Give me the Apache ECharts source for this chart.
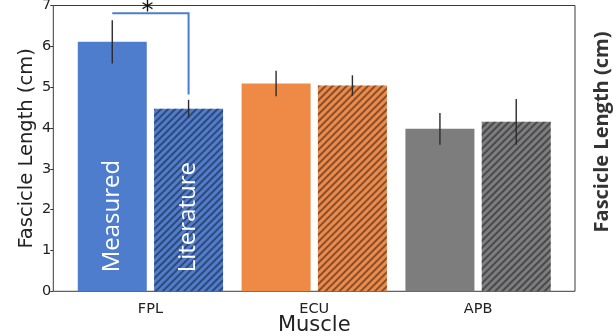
<!DOCTYPE html>
<html><head><meta charset="utf-8">
<script src="https://cdn.jsdelivr.net/npm/echarts@6/dist/echarts.min.js"></script>
<style>html,body{margin:0;padding:0;background:#fff}#c{width:613px;height:336px}</style>
</head><body><div id="c"></div>
<script>
const categories = ['FPL', 'ECU', 'APB'];
const measured = [6.11, 5.09, 3.98];
const measuredErr = [0.53, 0.31, 0.39];
const literature = [4.47, 5.04, 4.15];
const literatureErr = [0.22, 0.25, 0.56];
const yTicks = [0, 1, 2, 3, 4, 5, 6, 7];
const seriesNames = ['Measured', 'Literature'];
const sigCategory = 0;   // FPL
const sigTop = 6.81;
const sigDrop = 4.82;
const sigMark = '*';

const colors = ['#4f7dcd', '#ee8a45', '#7d7d7d'];
const BAR_W = 69, BAR_GAP = 7.3;
const OFF = (BAR_W + BAR_GAP) / 2;

const chart = echarts.init(document.getElementById('c'), null, {renderer: 'canvas'});

function errSeries(vals, errs, sign) {
  return {
    type: 'custom', xAxisIndex: 0, yAxisIndex: 0, z: 5, clip: false,
    data: vals.map((v, i) => [i, v - errs[i], v + errs[i]]),
    renderItem: function (params, api) {
      const lo = api.coord([api.value(0), api.value(1)]);
      const hi = api.coord([api.value(0), api.value(2)]);
      const x = lo[0] + sign * OFF;
      return {type: 'line', shape: {x1: x, y1: lo[1], x2: x, y2: hi[1]},
        style: {stroke: '#2b2b2b', lineWidth: 1.4}};
    }
  };
}

const labelBase = {show: true, position: 'insideBottom', rotate: 90, align: 'left',
  verticalAlign: 'middle', distance: 19, color: '#fff', fontSize: 24, fontFamily: 'Open Sans'};

const option = {
  animation: false,
  grid: [
    {left: 68.5, right: 53, top: 5.5, bottom: 44.7, outerBoundsMode: 'none', containLabel: false},
    {left: 53.3, right: 38, top: 5.5, bottom: 44.7, outerBoundsMode: 'none', containLabel: false,
      show: true, borderColor: '#3a3a3a', borderWidth: 1}
  ],
  xAxis: [
    {type: 'category', data: categories, gridIndex: 0,
      axisLine: {show: false}, axisTick: {show: false},
      axisLabel: {fontSize: 14.5, color: '#222', margin: 10, fontFamily: 'DejaVu Sans'},
      name: 'Muscle', nameLocation: 'middle', nameGap: 24, nameMoveOverlap: false,
      nameTextStyle: {fontSize: 21, color: '#222', fontFamily: 'DejaVu Sans'}},
    {type: 'value', gridIndex: 1, show: false}
  ],
  yAxis: [
    {type: 'value', gridIndex: 0, min: yTicks[0], max: yTicks[yTicks.length - 1], interval: 1,
      offset: 15.2, axisLine: {show: false},
      axisTick: {show: true, length: 3, lineStyle: {color: '#333'}},
      axisLabel: {fontSize: 14.5, color: '#222', margin: 2, fontFamily: 'DejaVu Sans'},
      splitLine: {show: false},
      name: 'Fascicle Length (cm)', nameLocation: 'middle', nameGap: 16, nameMoveOverlap: false,
      nameTextStyle: {fontSize: 19.5, color: '#222', fontFamily: 'DejaVu Sans'}},
    {type: 'value', gridIndex: 1, show: false}
  ],
  series: [
    {type: 'bar', name: seriesNames[0], xAxisIndex: 0, yAxisIndex: 0, barWidth: BAR_W,
      barGap: (BAR_GAP / BAR_W * 100) + '%',
      itemStyle: {color: p => colors[p.dataIndex]},
      data: measured.map((v, i) => i === 0 ? {value: v, label: Object.assign({formatter: seriesNames[0]}, labelBase)} : v)},
    {type: 'bar', name: seriesNames[1], xAxisIndex: 0, yAxisIndex: 0, barWidth: BAR_W,
      itemStyle: {color: p => colors[p.dataIndex],
        decal: {symbol: 'rect', symbolSize: 1, dashArrayX: [1, 0], dashArrayY: [1.2, 2.4],
          rotation: -Math.PI / 4, color: 'rgba(20,20,30,0.5)'}},
      data: literature.map((v, i) => i === 0 ? {value: v, label: Object.assign({formatter: seriesNames[1]}, labelBase)} : v)},
    errSeries(measured, measuredErr, -1),
    errSeries(literature, literatureErr, 1),
    {type: 'custom', xAxisIndex: 0, yAxisIndex: 0, z: 6, clip: false,
      data: [[sigCategory, sigTop, sigDrop]],
      renderItem: function (params, api) {
        const top = api.coord([api.value(0), api.value(1)]);
        const drop = api.coord([api.value(0), api.value(2)]);
        const xl = top[0] - OFF, xr = top[0] + OFF;
        return {type: 'group', children: [
          {type: 'polyline', shape: {points: [[xl, top[1]], [xr, top[1]], [xr, drop[1]]]},
            style: {stroke: '#4a7fd0', lineWidth: 2, fill: null}},
          {type: 'text', style: {x: (xl + xr) / 2 - 3, y: top[1] - 1, text: sigMark,
            fontSize: 24, fontFamily: 'DejaVu Sans', fill: '#111', align: 'center', verticalAlign: 'middle'}}
        ]};
      }}
  ],
  graphic: [
    {type: 'text', x: 602, y: 132, rotation: Math.PI / 2,
      style: {text: 'Fascicle Length (cm)', fontSize: 20, fontWeight: 'bold', fontFamily: 'Open Sans',
        fill: '#333', align: 'center', verticalAlign: 'middle'}}
  ]
};
chart.setOption(option);
</script>
</body></html>
